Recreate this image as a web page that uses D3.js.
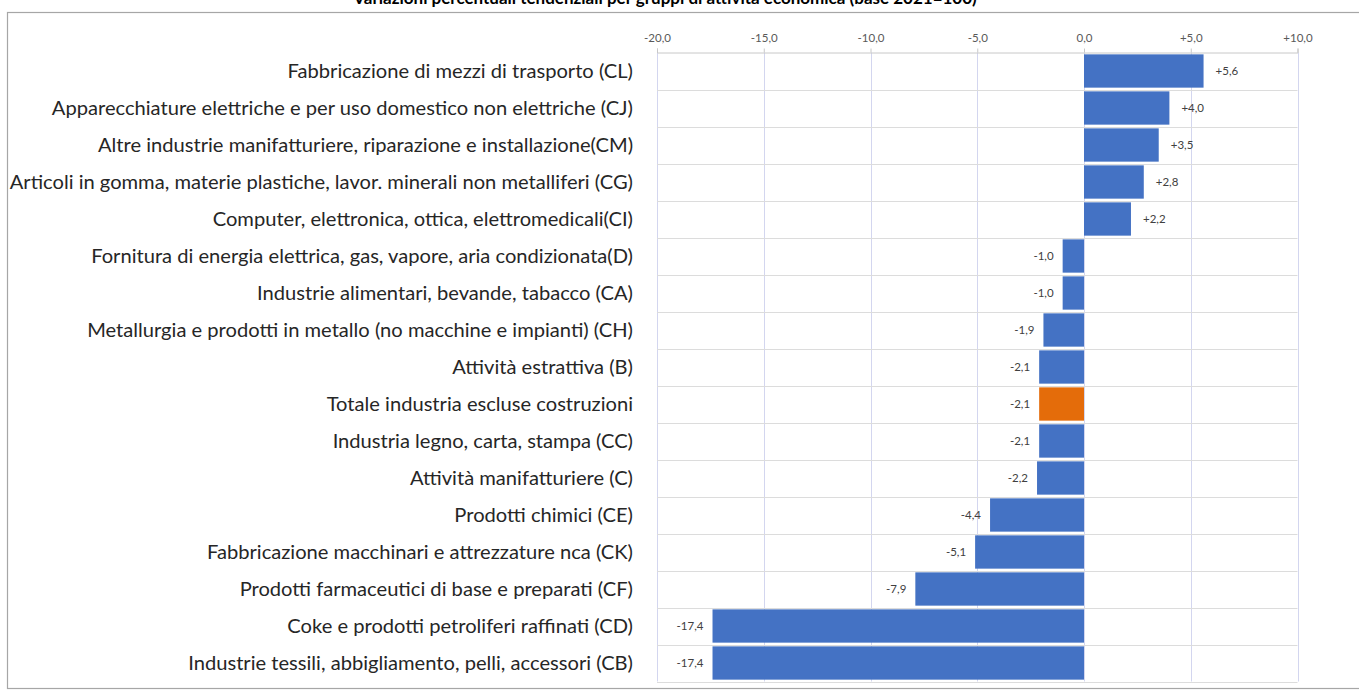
<!DOCTYPE html>
<html>
<head>
<meta charset="utf-8">
<script src="https://cdn.jsdelivr.net/npm/d3@7"></script>
<style>
  html, body { margin: 0; padding: 0; background: #ffffff; }
  svg { display: block; }
</style>
</head>
<body>
<svg id="chart" width="1359" height="691"></svg>
<script>
// Categories, top to bottom
const categories = [
  "Fabbricazione di mezzi di trasporto (CL)",
  "Apparecchiature elettriche e per uso domestico non elettriche (CJ)",
  "Altre industrie manifatturiere, riparazione e installazione(CM)",
  "Articoli in gomma, materie plastiche, lavor. minerali non metalliferi (CG)",
  "Computer, elettronica, ottica, elettromedicali(CI)",
  "Fornitura di energia elettrica, gas, vapore, aria condizionata(D)",
  "Industrie alimentari, bevande, tabacco (CA)",
  "Metallurgia e prodotti in metallo (no macchine e impianti) (CH)",
  "Attività estrattiva (B)",
  "Totale industria escluse costruzioni",
  "Industria legno, carta, stampa (CC)",
  "Attività manifatturiere (C)",
  "Prodotti chimici (CE)",
  "Fabbricazione macchinari e attrezzature nca (CK)",
  "Prodotti farmaceutici di base e preparati (CF)",
  "Coke e prodotti petroliferi raffinati (CD)",
  "Industrie tessili, abbigliamento, pelli, accessori (CB)"
];
const values = [5.6, 4.0, 3.5, 2.8, 2.2, -1.0, -1.0, -1.9, -2.1, -2.1, -2.1, -2.2, -4.4, -5.1, -7.9, -17.4, -17.4];
const totalCategory = "Totale industria escluse costruzioni";
const xTicks = [-20, -15, -10, -5, 0, 5, 10];
const titleText = "Variazioni percentuali tendenziali per gruppi di attività economica (base 2021=100)";

const svg = d3.select("#chart");
const W = 1359, H = 691;
const FONT = "Lato, 'Open Sans', sans-serif";

// Chart frame
svg.append("rect")
  .attr("x", 7.5).attr("y", 12.5)
  .attr("width", W + 10).attr("height", 676)
  .attr("fill", "#ffffff").attr("stroke", "#a6a6a6").attr("stroke-width", 1.2);

// Title (runs above the top edge of the page)
svg.append("text")
  .attr("x", 665).attr("y", 4)
  .attr("text-anchor", "middle")
  .attr("font-family", FONT)
  .attr("font-weight", "bold")
  .attr("font-size", 17)
  .attr("fill", "#000000")
  .text(titleText);

const plot = { left: 657, right: 1297.5, top: 52.5, bottom: 681.5 };

const x = d3.scaleLinear().domain([-20, 10]).range([plot.left, plot.right]);
const y = d3.scaleBand().domain(categories).range([plot.top, plot.bottom]).paddingInner(0.1).paddingOuter(0.05);
const rows = d3.scaleBand().domain(categories).range([plot.top, plot.bottom]);

// Italian decimal comma, plain hyphen for negatives, explicit plus for positives
const fmt = v => (v > 0 ? "+" : v < 0 ? "-" : "") + d3.format(".1f")(Math.abs(v)).replace(".", ",");

// Vertical gridlines
svg.append("g").selectAll("line").data(xTicks).join("line")
  .attr("x1", d => Math.round(x(d)) + 0.5).attr("x2", d => Math.round(x(d)) + 0.5)
  .attr("y1", plot.top).attr("y2", plot.bottom)
  .attr("stroke", "#d3d6ef").attr("stroke-width", 1);

// Horizontal separators between rows
svg.append("g").selectAll("line").data(categories).join("line")
  .attr("x1", plot.left).attr("x2", plot.right)
  .attr("y1", d => Math.round(rows(d) + rows.bandwidth()) + 0.5)
  .attr("y2", d => Math.round(rows(d) + rows.bandwidth()) + 0.5)
  .attr("stroke", "#dcdcdc").attr("stroke-width", 1);

// Top axis
const axis = svg.append("g")
  .attr("transform", `translate(0,${plot.top})`)
  .call(d3.axisTop(x).tickValues(xTicks).tickSize(4).tickPadding(7).tickFormat(fmt));
axis.select(".domain").attr("stroke", "#c8c8c8");
axis.selectAll(".tick line").attr("stroke", "#c8c8c8");
axis.selectAll(".tick text")
  .attr("font-family", FONT)
  .attr("font-size", 11.5)
  .attr("fill", "#595959");

// Bars
svg.append("g").selectAll("rect").data(categories).join("rect")
  .attr("x", (d, i) => x(Math.min(0, values[i])))
  .attr("y", d => y(d))
  .attr("width", (d, i) => Math.abs(x(values[i]) - x(0)))
  .attr("height", y.bandwidth())
  .attr("fill", d => d === totalCategory ? "#E46C0A" : "#4472C4");

// Value labels
svg.append("g").selectAll("text").data(categories).join("text")
  .attr("x", (d, i) => values[i] >= 0 ? x(values[i]) + 12 : x(values[i]) - 9)
  .attr("y", d => y(d) + y.bandwidth() / 2)
  .attr("dy", "0.35em")
  .attr("text-anchor", (d, i) => values[i] >= 0 ? "start" : "end")
  .attr("font-family", FONT)
  .attr("font-size", 11.5)
  .attr("fill", "#404040")
  .text((d, i) => fmt(values[i]));

// Category labels
const labels = svg.append("g").selectAll("text").data(categories).join("text")
  .attr("x", 633)
  .attr("y", d => rows(d) + rows.bandwidth() / 2)
  .attr("dy", "0.35em")
  .attr("text-anchor", "end")
  .attr("font-family", FONT)
  .attr("font-size", 15)
  .attr("fill", "#262626")
  .text(d => d);

// Size the labels so the longest one spans from the frame edge to the plot
const widest = d3.max(labels.nodes(), n => n.getComputedTextLength());
labels.attr("font-size", 15 * 624 / widest);
</script>
</body>
</html>
